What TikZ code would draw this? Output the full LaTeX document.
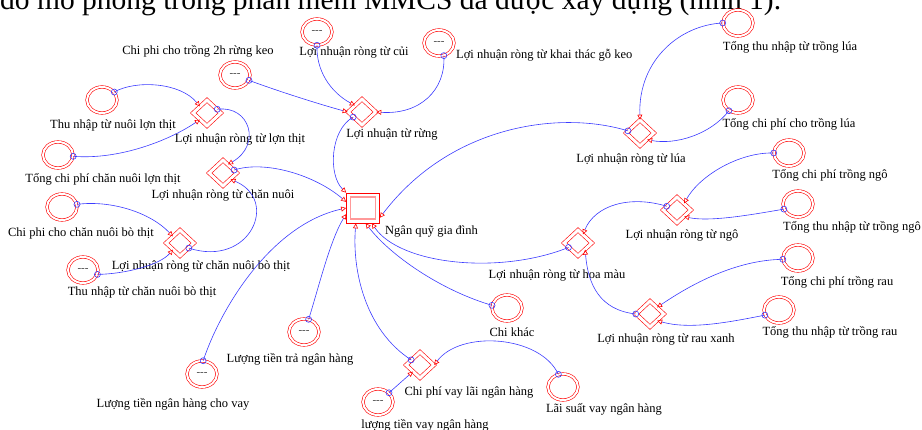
\documentclass[tikz,border=0pt]{standalone}
\usepackage{fontspec}
\setmainfont{Liberation Serif}
\usetikzlibrary{shapes.geometric,arrows.meta}
\definecolor{lnk}{RGB}{60,60,255}
\begin{document}
\begin{tikzpicture}[x=1pt,y=-1pt,
 var/.style={ellipse, draw=red, double=white, double distance=2pt, line width=0.6pt, minimum width=30pt, minimum height=26pt, inner sep=0pt, font=\fontsize{11}{11}\selectfont, text=black!75},
 aux/.style={diamond, draw=red, double=white, double distance=3pt, line width=0.6pt, minimum width=28pt, minimum height=26pt, inner sep=0pt},
 stock/.style={rectangle, draw=red, line width=0.7pt, minimum width=33pt, minimum height=30pt, inner sep=0pt},
 stockin/.style={rectangle, draw=red!40, line width=1.4pt, minimum width=25pt, minimum height=22pt, inner sep=0pt},
 lbl/.style={font=\fontsize{12.5}{14}\selectfont, inner sep=0pt},
 link/.style={draw=lnk, line width=0.6pt, -{Triangle[open,color=red,length=5pt,width=5pt]}},
 dot/.style={circle, draw=lnk, line width=0.6pt, minimum size=6pt, inner sep=0pt},
]
\useasboundingbox (0,0) rectangle (922,430);
\node[anchor=base west, inner sep=0pt, font=\fontsize{29.5}{31}\selectfont] (title) at (0,10) {đồ mô phỏng trong phần mềm MMCS đã được xây dựng (hình 1).};

\node[var] (v2h) at (235,75) {-{}-{}-};
\node[lbl] (l2h) at (198,51) {Chi phi cho trồng 2h rừng keo};
\node[var] (vcui) at (317,32) {-{}-{}-};
\node[lbl] (lcui) at (354,53) {Lợi nhuận ròng từ củi};
\node[var] (vgo) at (439,43) {-{}-{}-};
\node[lbl, anchor=west] (lgo) at (456,55) {Lợi nhuận ròng từ khai thác gỗ keo};
\node[aux] (arung) at (362,112) {};
\node[lbl] (lrung) at (392,135) {Lợi nhuận từ rừng};
\node[var] (vthulon) at (102,100) {};
\node[lbl] (lthulon) at (113,125) {Thu nhập từ nuôi lợn thịt};
\node[aux] (alon) at (207,113) {};
\node[lbl] (llon) at (240,140) {Lợi nhuận ròng từ lợn thịt};
\node[var] (vchilon) at (58,155) {};
\node[lbl] (lchilon) at (103,179) {Tổng chi phí chăn nuôi lợn thịt};
\node[aux] (acn) at (223,173) {};
\node[lbl] (lcn) at (223,196) {Lợi nhuận ròng từ chăn nuôi};
\node[var] (vchibo) at (62,207) {};
\node[lbl] (lchibo) at (81,233) {Chi phi cho chăn nuôi bò thịt};
\node[aux] (abo) at (180,243) {};
\node[lbl] (lbo) at (201,267) {Lợi nhuận ròng từ chăn nuôi bò thịt};
\node[var] (vthubo) at (83,270) {-{}-{}-};
\node[lbl] (lthubo) at (142,292) {Thu nhập từ chăn nuôi bò thịt};
\node[stock] (quy) at (363,208) {};
\node[stockin] (quyin) at (quy) {};
\node[lbl, anchor=west] (lquy) at (385,232) {Ngân quỹ gia đình};
\node[aux] (alua) at (640,133) {};
\node[lbl] (llua) at (631,160) {Lợi nhuận ròng từ lúa};
\node[var] (vthulua) at (738,23) {};
\node[lbl] (lthulua) at (790,47) {Tổng thu nhập từ trồng lúa};
\node[var] (vchilua) at (738,100) {};
\node[lbl] (lchilua) at (789,124) {Tổng chi phí cho trồng lúa};
\node[var] (vchingo) at (789,153) {};
\node[lbl] (lchingo) at (830,175) {Tổng chi phí trồng ngô};
\node[aux] (ango) at (677,210) {};
\node[lbl] (lngo) at (682,236) {Lợi nhuận ròng từ ngô};
\node[var] (vthungo) at (798,204) {};
\node[lbl] (lthungo) at (852,227) {Tổng thu nhập từ trồng ngô};
\node[aux] (ahm) at (578,243) {};
\node[lbl] (lhm) at (557,276) {Lợi nhuận ròng từ hoa màu};
\node[var] (vchirau) at (798,258) {};
\node[lbl] (lchirau) at (837,282) {Tổng chi phí trồng rau};
\node[aux] (arau) at (650,314) {};
\node[lbl] (lrau) at (666,340) {Lợi nhuận ròng từ rau xanh};
\node[var] (vthurau) at (779,310) {};
\node[lbl] (lthurau) at (830,332) {Tổng thu nhập từ trồng rau};
\node[var] (vck) at (507,308) {};
\node[lbl] (lck) at (512,332) {Chi khác};
\node[aux] (avay) at (420,365) {};
\node[lbl] (lavay) at (469,393) {Chi phí vay lãi ngân hàng};
\node[var] (vls) at (563,387) {};
\node[lbl] (lls) at (604,409) {Lãi suất vay ngân hàng};
\node[var] (vvay) at (378,402) {-{}-{}-};
\node[lbl] (lvay) at (425,425) {lượng tiền vay ngân hàng};
\node[var] (vtra) at (304,332) {-{}-{}-};
\node[lbl] (ltra) at (290,359) {Lượng tiền trả ngân hàng};
\node[var] (vcv) at (202,374) {-{}-{}-};
\node[lbl] (lcv) at (173,404) {Lượng tiền ngân hàng cho vay};

\draw[link] (v2h.-21) node[dot]{} .. controls (275,90) and (315,103) .. (arung.west);
\draw[link] (vcui.south) node[dot]{} .. controls (316,70) and (330,92) .. (arung.north west);
\draw[link] (vgo.-69) node[dot]{} .. controls (446,90) and (420,115) .. (arung.east);
\draw[link] (arung.-150) node[dot]{} .. controls (330,130) and (328,175) .. (quy.north west);
\draw[link] (vthulon.33) node[dot]{} .. controls (135,80) and (180,82) .. (alon.north west);
\draw[link] (vchilon.-5) node[dot]{} .. controls (120,160) and (170,140) .. (alon.south west);
\draw[link] (alon.20) node[dot]{} .. controls (250,105) and (262,145) .. (acn.60);
\draw[link] (acn.15) node[dot]{} .. controls (265,160) and (315,175) .. (quy.160);
\draw[link] (vchibo.10) node[dot]{} .. controls (110,200) and (150,212) .. (abo.north west);
\draw[link] (vthubo.-17) node[dot]{} .. controls (125,274) and (160,265) .. (abo.south west);
\draw[link] (abo.-30) node[dot]{} .. controls (250,268) and (280,200) .. (acn.-40);
\draw[link] (vcv.85) node[dot]{} .. controls (220,310) and (270,225) .. (quy.west);
\draw[link] (vtra.70) node[dot]{} .. controls (318,290) and (330,240) .. (quy.200);
\draw[link] (avay.150) node[dot]{} .. controls (365,330) and (352,270) .. (quy.-115);
\draw[link] (vck.170) node[dot]{} .. controls (440,290) and (390,255) .. (quy.-80);
\draw[link] (ahm.-155) node[dot]{} .. controls (500,275) and (400,265) .. (quy.-60);
\draw[link] (alua.170) node[dot]{} .. controls (560,110) and (450,125) .. (quy.-30);
\draw[link] (vthulua.west) node[dot]{} .. controls (680,25) and (638,60) .. (alua.north);
\draw[link] (vchilua.-130) node[dot]{} .. controls (710,135) and (675,145) .. (alua.south east);
\draw[link] (vchingo.west) node[dot]{} .. controls (740,152) and (700,175) .. (ango.north east);
\draw[link] (vthungo.-160) node[dot]{} .. controls (750,215) and (710,222) .. (ango.south east);
\draw[link] (ango.160) node[dot]{} .. controls (630,195) and (595,205) .. (ahm.60);
\draw[link] (arau.west) node[dot]{} .. controls (600,310) and (588,285) .. (ahm.south east);
\draw[link] (vchirau.-175) node[dot]{} .. controls (735,260) and (690,285) .. (arau.north east);
\draw[link] (vthurau.-160) node[dot]{} .. controls (730,322) and (690,330) .. (arau.south east);
\draw[link] (vls.110) node[dot]{} .. controls (540,335) and (460,330) .. (avay.east);
\draw[link] (vvay.40) node[dot]{} -- (avay.south west);
\end{tikzpicture}
\end{document}
